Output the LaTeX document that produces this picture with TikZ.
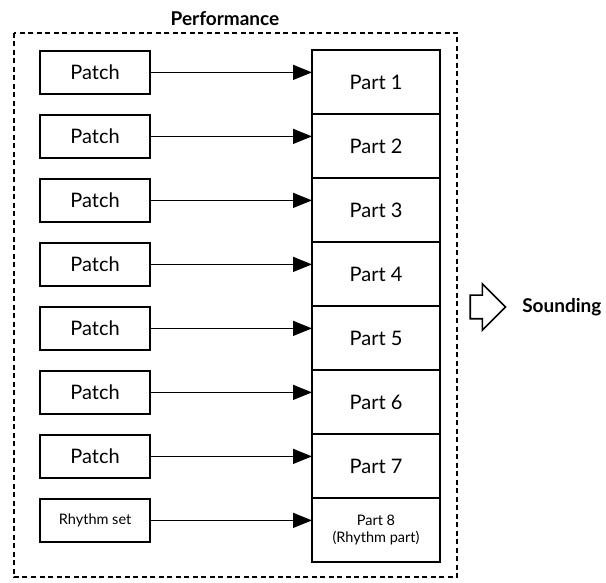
\documentclass[tikz,border=0pt]{standalone}
\usepackage{fontspec}
\setmainfont{Lato}
\usepackage{tikz}
\usetikzlibrary{arrows.meta, shapes.arrows, positioning, calc}

\begin{document}
\begin{tikzpicture}[x=1pt, y=-1pt, font=\fontsize{20}{23}\selectfont,
	part/.style={rectangle, draw, line width=1.8pt, outer sep=0pt, minimum width=128pt, minimum height=64pt},
	patch/.style={rectangle, draw, line width=1.8pt, minimum width=110pt, minimum height=43pt},
	enlace/.style={-{Triangle[length=19pt, width=15pt]}, line width=1.2pt},
	marco/.style={dash pattern=on 5pt off 3.5pt, line width=2.2pt}]
	\useasboundingbox (0,0) rectangle (606,583);
	% parts stacked on the right
	\node[part] (part1) at (376,82) {Part 1};
	\node[part, below=0pt of part1] (part2) {Part 2};
	\node[part, below=0pt of part2] (part3) {Part 3};
	\node[part, below=0pt of part3] (part4) {Part 4};
	\node[part, below=0pt of part4] (part5) {Part 5};
	\node[part, below=0pt of part5] (part6) {Part 6};
	\node[part, below=0pt of part6] (part7) {Part 7};
	\node[part, below=0pt of part7, align=center, font=\fontsize{14.5}{17}\selectfont] (part8) {Part 8\\(Rhythm part)};
	% patches, top aligned with their part
	\node[patch, left=161pt of part1.north west, anchor=north east] (patch1) {Patch};
	\node[patch, left=161pt of part2.north west, anchor=north east] (patch2) {Patch};
	\node[patch, left=161pt of part3.north west, anchor=north east] (patch3) {Patch};
	\node[patch, left=161pt of part4.north west, anchor=north east] (patch4) {Patch};
	\node[patch, left=161pt of part5.north west, anchor=north east] (patch5) {Patch};
	\node[patch, left=161pt of part6.north west, anchor=north east] (patch6) {Patch};
	\node[patch, left=161pt of part7.north west, anchor=north east] (patch7) {Patch};
	\node[patch, left=161pt of part8.north west, anchor=north east, font=\fontsize{14.5}{17}\selectfont] (rhythm) {Rhythm set};
	\draw[enlace] (patch1) -- (patch1 -| part1.west);
	\draw[enlace] (patch2) -- (patch2 -| part2.west);
	\draw[enlace] (patch3) -- (patch3 -| part3.west);
	\draw[enlace] (patch4) -- (patch4 -| part4.west);
	\draw[enlace] (patch5) -- (patch5 -| part5.west);
	\draw[enlace] (patch6) -- (patch6 -| part6.west);
	\draw[enlace] (patch7) -- (patch7 -| part7.west);
	\draw[enlace] (rhythm) -- (rhythm -| part8.west);
	% performance frame
	\draw[marco] (14,33) rectangle (457,577);
	\node[font=\bfseries\fontsize{19}{22}\selectfont] (perf) at (225,19) {Performance};
	% output
	\node[single arrow, draw, line width=1.6pt, inner sep=11pt, minimum height=35pt,
		single arrow head extend=11.5pt] (salida) at (482,307) {};
	\node[font=\bfseries\fontsize{19}{22}\selectfont, right=12pt of salida] (sound) {Sounding};
\end{tikzpicture}
\end{document}
